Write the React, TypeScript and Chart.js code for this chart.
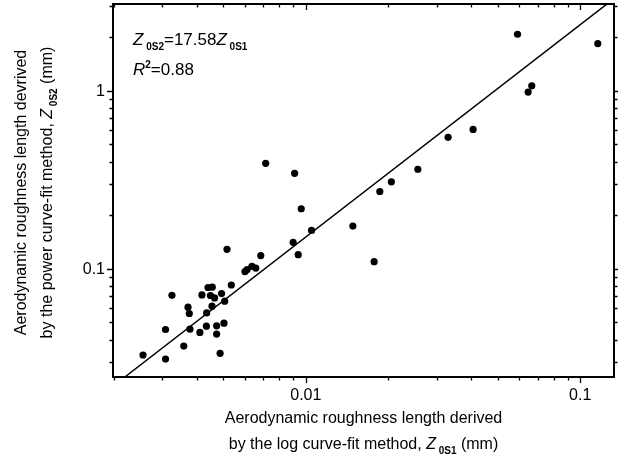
import React, { useEffect, useRef } from "react";
import { Chart, registerables } from "chart.js";

Chart.register(...registerables);

// Z0S1 (log curve-fit), mm
const zLogFit = [
  0.00255, 0.00308, 0.00308, 0.00325, 0.00359, 0.00372, 0.00376, 0.00378, 0.00411, 0.00418,
  0.00434, 0.00435, 0.0044, 0.00456, 0.00449, 0.00455, 0.00465, 0.00473, 0.00473, 0.00487,
  0.00493, 0.00503, 0.00506, 0.00516, 0.00535, 0.006, 0.00611, 0.00636, 0.00657, 0.00685,
  0.00899, 0.00938, 0.00962, 0.01049, 0.01484, 0.00714, 0.0091, 0.0591, 0.1159, 0.0666,
  0.0646, 0.0407, 0.033, 0.0256, 0.0205, 0.0186, 0.01774,
];
// Z0S2 (power curve-fit), mm
const zPowerFit = [
  0.0328, 0.0311, 0.0456, 0.071, 0.0368, 0.0609, 0.0561, 0.0458, 0.0439, 0.0713,
  0.0476, 0.0565, 0.0785, 0.0788, 0.0708, 0.0617, 0.0686, 0.0478, 0.043, 0.0335,
  0.0726, 0.0495, 0.0658, 0.1286, 0.0811, 0.0965, 0.099, 0.1033, 0.101, 0.1186,
  0.1408, 0.12, 0.2174, 0.1643, 0.1737, 0.3914, 0.344, 2.078, 1.841, 1.067,
  0.983, 0.607, 0.5475, 0.3624, 0.308, 0.2718, 0.1097,
];
// regression line end points
const fitLineX = [0.0022, 0.125];
const fitLineY = [0.0248, 3.07];

const xMajorTicks = [0.01, 0.1];
const xTickLabels = ["0.01", "0.1"];
const yMajorTicks = [0.1, 1];
const yTickLabels = ["0.1", "1"];
const xDecades = [0.001, 0.01, 0.1];
const yDecades = [0.01, 0.1, 1];
const minorMultipliers = [2, 3, 4, 5, 6, 7, 8, 9];

const X_MIN = 0.001982;
const X_MAX = 0.1328;
const Y_MIN = 0.02467;
const Y_MAX = 3.073;

const FONT = "'Liberation Sans', Arial, Helvetica, sans-serif";

type Seg = { t: string; font: string; dy?: number };

function segWidth(ctx: CanvasRenderingContext2D, segs: Seg[]) {
  let w = 0;
  for (const s of segs) {
    ctx.font = s.font;
    w += ctx.measureText(s.t).width;
  }
  return w;
}

function drawSegs(ctx: CanvasRenderingContext2D, segs: Seg[], x: number, y: number) {
  let cx = x;
  for (const s of segs) {
    ctx.font = s.font;
    ctx.fillText(s.t, cx, y + (s.dy || 0));
    cx += ctx.measureText(s.t).width;
  }
}

const framePlugin = {
  id: "frameAndText",
  afterDraw(chart: any) {
    const ctx: CanvasRenderingContext2D = chart.ctx;
    const { left, right, top, bottom } = chart.chartArea;
    const xs = chart.scales.x;
    const ys = chart.scales.y;
    ctx.save();
    ctx.strokeStyle = "#000";
    ctx.fillStyle = "#000";

    // frame
    ctx.lineWidth = 2;
    ctx.beginPath();
    ctx.moveTo(left, top);
    ctx.lineTo(right, top);
    ctx.lineTo(right, bottom);
    ctx.lineTo(left, bottom);
    ctx.closePath();
    ctx.stroke();

    // ticks
    ctx.lineWidth = 1.3;
    const xMinor: number[] = [];
    xDecades.forEach((d) => minorMultipliers.forEach((m) => xMinor.push(d * m)));
    const yMinor: number[] = [];
    yDecades.forEach((d) => minorMultipliers.forEach((m) => yMinor.push(d * m)));

    const drawX = (v: number, len: number) => {
      if (v < X_MIN || v > X_MAX) return;
      const px = Math.round(xs.getPixelForValue(v)) + 0.5;
      ctx.beginPath();
      ctx.moveTo(px, bottom);
      ctx.lineTo(px, bottom + len);
      ctx.moveTo(px, top);
      ctx.lineTo(px, top + len);
      ctx.stroke();
    };
    const drawY = (v: number, len: number) => {
      if (v < Y_MIN || v > Y_MAX) return;
      const py = Math.round(ys.getPixelForValue(v)) + 0.5;
      ctx.beginPath();
      ctx.moveTo(left, py);
      ctx.lineTo(left - len, py);
      ctx.moveTo(right, py);
      ctx.lineTo(right + len, py);
      ctx.stroke();
    };
    xMinor.forEach((v) => drawX(v, 3.5));
    xMajorTicks.forEach((v) => drawX(v, 6));
    yMinor.forEach((v) => drawY(v, 3.5));
    yMajorTicks.forEach((v) => drawY(v, 6));

    // tick labels
    ctx.font = `16px ${FONT}`;
    ctx.textBaseline = "middle";
    ctx.textAlign = "center";
    xMajorTicks.forEach((v, i) => {
      ctx.fillText(xTickLabels[i], xs.getPixelForValue(v), bottom + 19);
    });
    ctx.textAlign = "right";
    yMajorTicks.forEach((v, i) => {
      ctx.fillText(yTickLabels[i], left - 8, ys.getPixelForValue(v) + 1);
    });

    // x title
    ctx.textAlign = "left";
    ctx.textBaseline = "alphabetic";
    const f = `16px ${FONT}`;
    const fi = `italic 16px ${FONT}`;
    const fs = `bold 10px ${FONT}`;
    const cxTitle = (left + right) / 2 + 0;
    const l1: Seg[] = [{ t: "Aerodynamic roughness length derived", font: f }];
    const l2: Seg[] = [
      { t: "by the log curve-fit method, ", font: f },
      { t: "Z", font: fi },
      { t: " 0S1", font: fs, dy: 5 },
      { t: " (mm)", font: f },
    ];
    drawSegs(ctx, l1, cxTitle - segWidth(ctx, l1) / 2, 423);
    drawSegs(ctx, l2, cxTitle - segWidth(ctx, l2) / 2, 449);

    // y title (rotated)
    const cyTitle = (top + bottom) / 2 + 2;
    const y1: Seg[] = [{ t: "Aerodynamic roughness length devrived", font: f }];
    const y2: Seg[] = [
      { t: "by the power curve-fit method, ", font: f },
      { t: "Z", font: fi },
      { t: " 0S2", font: fs, dy: 5 },
      { t: " (mm)", font: f },
    ];
    ctx.save();
    ctx.translate(0, cyTitle);
    ctx.rotate(-Math.PI / 2);
    drawSegs(ctx, y1, -segWidth(ctx, y1) / 2, 26);
    drawSegs(ctx, y2, -segWidth(ctx, y2) / 2, 52);
    ctx.restore();

    // annotation
    const af = `17px ${FONT}`;
    const afi = `italic 17px ${FONT}`;
    const afs = `bold 10px ${FONT}`;
    drawSegs(
      ctx,
      [
        { t: "Z", font: afi },
        { t: " 0S2", font: afs, dy: 5 },
        { t: "=17.58", font: af },
        { t: "Z", font: afi },
        { t: " 0S1", font: afs, dy: 5 },
      ],
      left + 20,
      top + 41
    );
    drawSegs(
      ctx,
      [
        { t: "R", font: afi },
        { t: "2", font: `bold 10px ${FONT}`, dy: -7 },
        { t: "=0.88", font: af },
      ],
      left + 20,
      top + 71
    );
    ctx.restore();
  },
};

export default function App() {
  const ref = useRef<HTMLCanvasElement | null>(null);
  useEffect(() => {
    if (!ref.current) return;
    const points = zLogFit.map((x, i) => ({ x, y: zPowerFit[i] }));
    const line = fitLineX.map((x, i) => ({ x, y: fitLineY[i] }));
    const chart = new Chart(ref.current, {
      type: "scatter",
      data: {
        datasets: [
          {
            data: line,
            showLine: true,
            pointRadius: 0,
            borderColor: "#000",
            borderWidth: 1.4,
            order: 2,
          },
          {
            data: points,
            pointRadius: 3.6,
            pointBackgroundColor: "#000",
            pointBorderColor: "#000",
            pointBorderWidth: 0,
            order: 1,
          },
        ],
      },
      options: {
        responsive: false,
        animation: false,
        events: [],
        layout: { padding: { left: 113, top: 3, right: 1, bottom: 84 } },
        plugins: { legend: { display: false }, tooltip: { enabled: false } },
        scales: {
          x: { type: "logarithmic", min: X_MIN, max: X_MAX, display: false },
          y: { type: "logarithmic", min: Y_MIN, max: Y_MAX, display: false },
        },
      },
      plugins: [framePlugin],
    });
    return () => chart.destroy();
  }, []);
  return (
    <canvas
      ref={ref}
      width={618}
      height={461}
      style={{ position: "fixed", left: 0, top: 0, width: 618, height: 461, background: "#fff" }}
    />
  );
}
